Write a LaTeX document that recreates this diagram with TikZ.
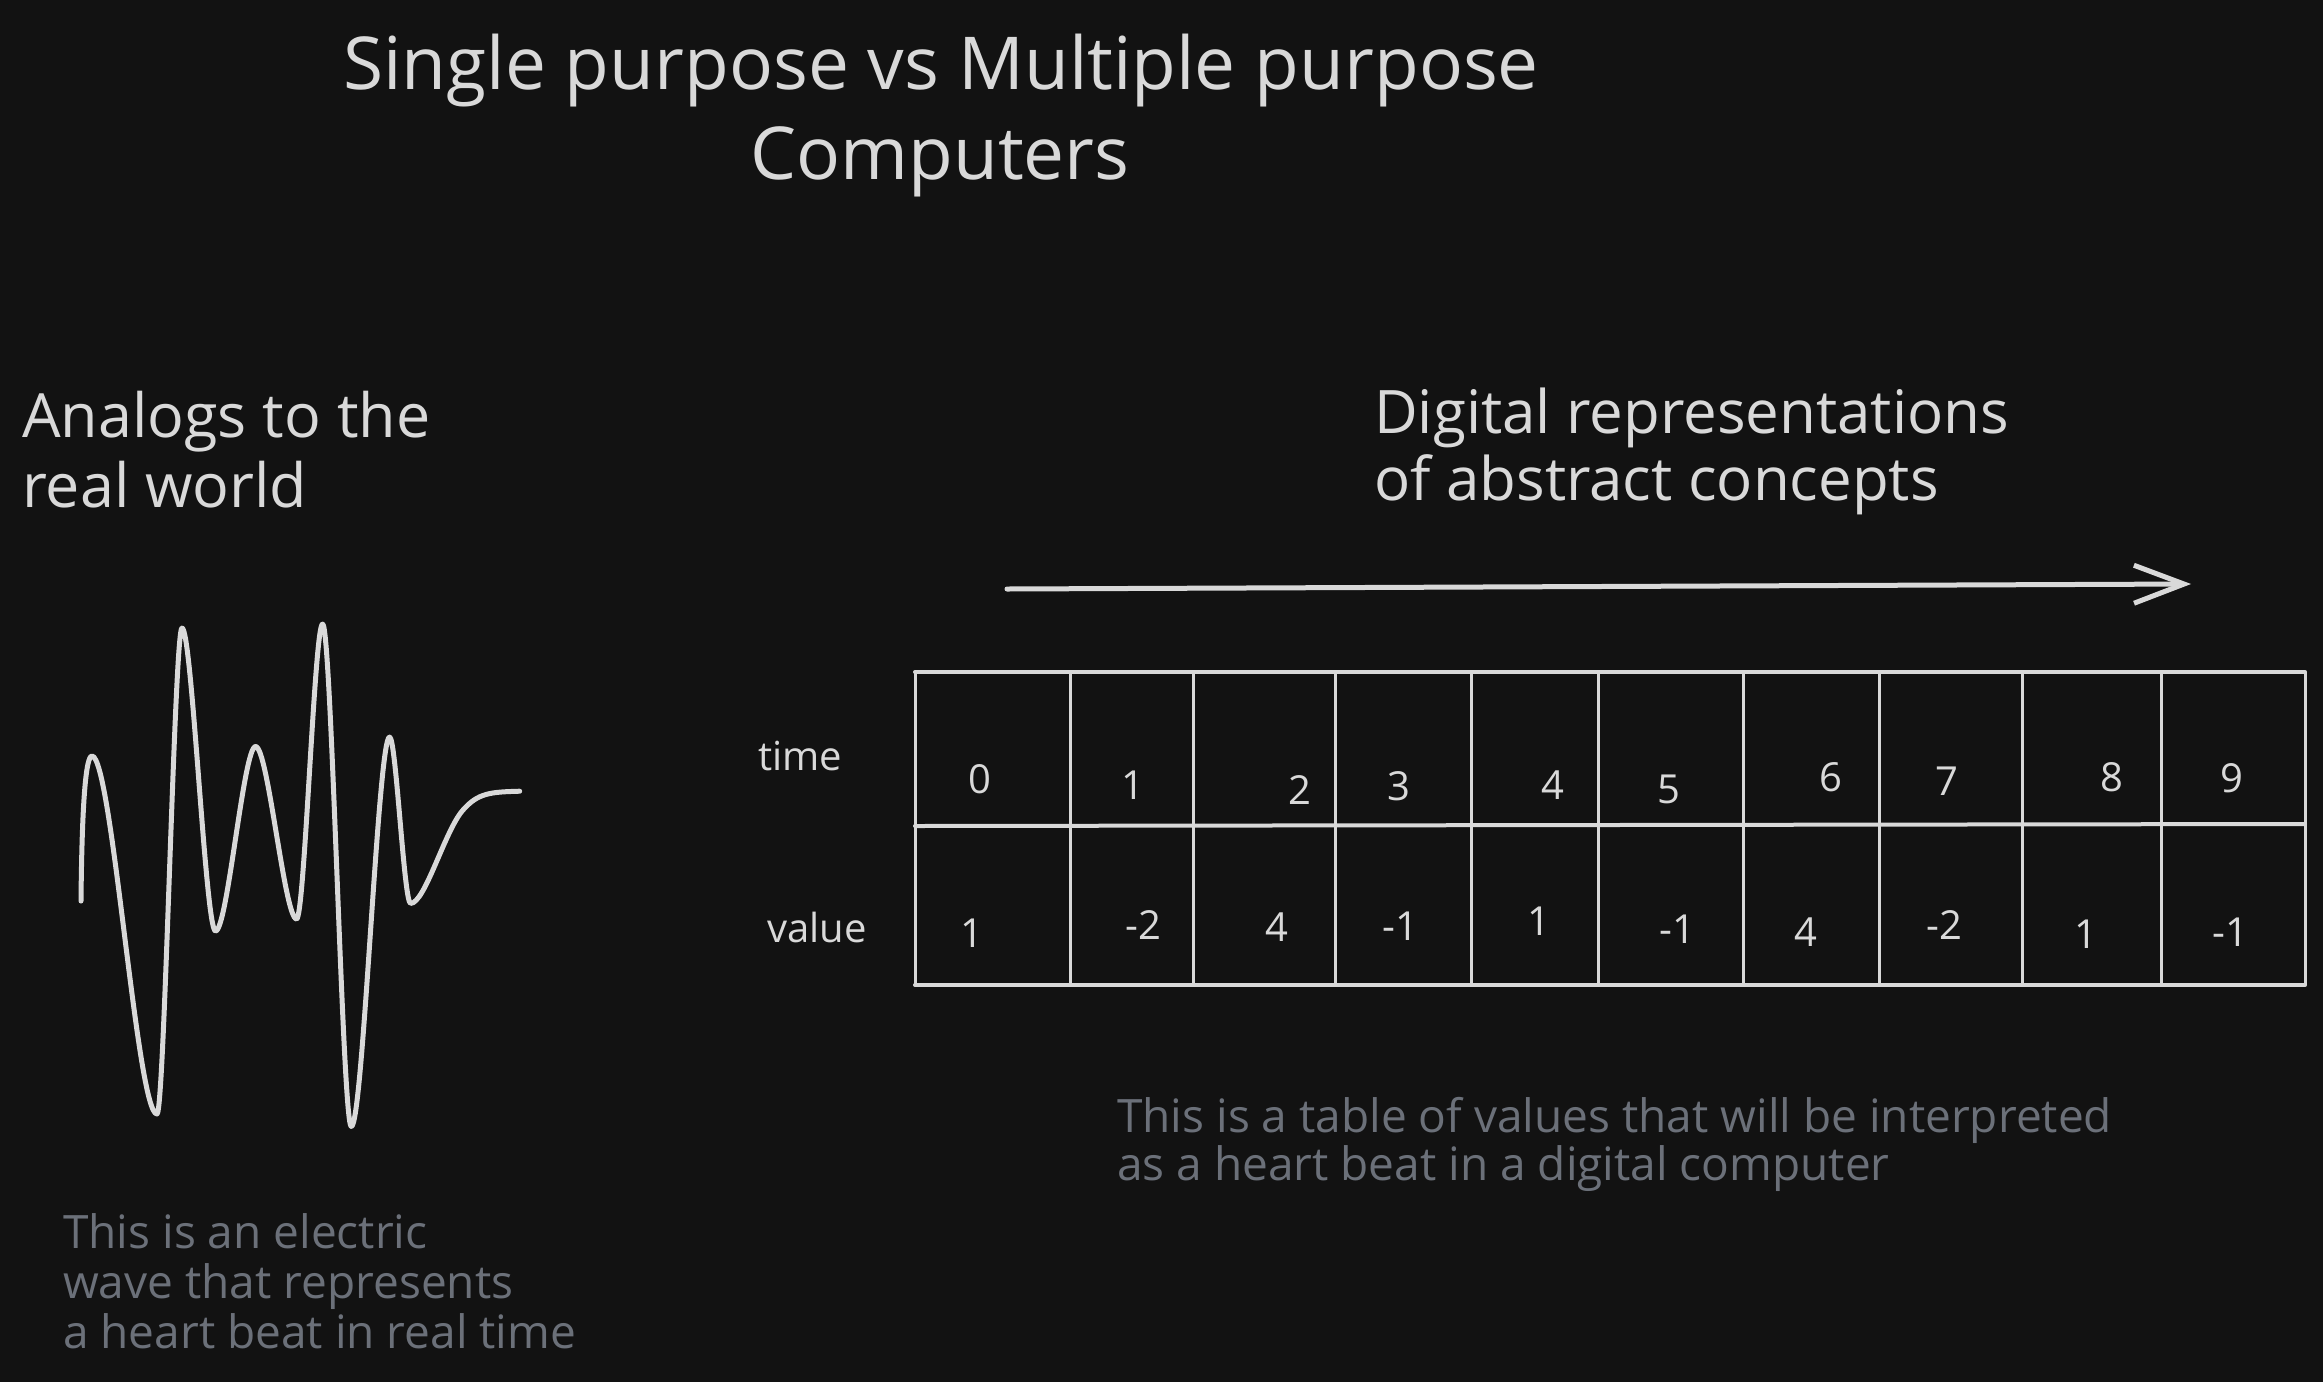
\documentclass[tikz,border=0pt]{standalone}
\usepackage{fontspec}
\setmainfont{Open Sans}
\usetikzlibrary{arrows.meta}
\definecolor{bg}{HTML}{121212}
\definecolor{ink}{HTML}{D9D9D9}
\definecolor{note}{HTML}{6B7079}
\tikzset{
  txt/.style={inner sep=0pt, text=ink},
  titletxt/.style={txt, font=\fontsize{73}{80}\selectfont, anchor=base},
  headtxt/.style={txt, font=\fontsize{61}{68}\selectfont, anchor=base west},
  notetxt/.style={inner sep=0pt, text=note, font=\fontsize{46}{52}\selectfont, anchor=base west},
  labtxt/.style={txt, font=\fontsize{40}{46}\selectfont, anchor=base west},
  celltxt/.style={txt, font=\fontsize{40}{44}\selectfont},
  vgrid/.style={draw=ink, line width=3pt},
  hgrid/.style={draw=ink, line width=4pt, line cap=round},
  wave/.style={draw=ink, line width=5pt, line cap=round, line join=round},
  arrowline/.style={draw=ink, line width=5pt, line cap=round,
    -{Straight Barb[length=50pt,width=38pt,line width=5pt]}},
}
\begin{document}
\begin{tikzpicture}[x=1pt,y=-1pt]
\fill[bg] (0,0) rectangle (2323,1382);
\useasboundingbox (0,0) rectangle (2323,1382);

% title
\node[titletxt] (t1) at (941,89) {Single purpose vs Multiple purpose};
\node[titletxt] (t2) at (940,179) {Computers};

% headings
\node[headtxt] (a1) at (22,437) {Analogs to the};
\node[headtxt] (a2) at (22,507) {real world};
\node[headtxt, font=\fontsize{60}{66}\selectfont] (d1) at (1374,433) {Digital representations};
\node[headtxt, font=\fontsize{60}{66}\selectfont] (d2) at (1374,500) {of abstract concepts};

% arrow
\coordinate (as) at (1007,589);
\coordinate (ae) at (2191,584);
\draw[arrowline] (as) -- (ae);

% wave
\draw[wave] (81,901)
  .. controls (82,800) and (86,756) .. (92,756)
  .. controls (112,756) and (137,1114) .. (157,1114)
  .. controls (164.5,1114) and (174.5,628) .. (182,628)
  .. controls (192,628) and (205.5,931) .. (215.5,931)
  .. controls (227.5,931) and (243.5,746.5) .. (255.6,746.5)
  .. controls (268,746.5) and (284.5,919) .. (296.6,919)
  .. controls (304.5,919) and (314.5,624) .. (322.6,624)
  .. controls (331.5,624) and (342.5,1126.5) .. (351.3,1126.5)
  .. controls (363,1126.5) and (378,737) .. (389.6,737)
  .. controls (396,737) and (404,903.4) .. (410.6,903.4)
  .. controls (425,903.4) and (445,830) .. (463,810)
  .. controls (478,793) and (490,792) .. (519.7,791.2);

% table grid
\coordinate (tl) at (915,672);
\coordinate (tr) at (2305,672);
\coordinate (ml) at (915,826);
\coordinate (mr) at (2305,824);
\coordinate (bl) at (915,985);
\coordinate (br) at (2305,985);
\draw[hgrid] (tl) -- (tr);
\draw[hgrid] (ml) -- (mr);
\draw[hgrid] (bl) -- (br);
\foreach \x in {915,1070.4,1193,1335.5,1471,1598.5,1743,1879.4,2022,2161.5,2305}{
  \draw[vgrid] (\x,672) -- (\x,985);
}

% row labels
\node[labtxt] (ltime) at (758,770) {time};
\node[labtxt] (lvalue) at (767,942) {value};

% time row
\node[celltxt] (c0) at (980,779) {0};
\node[celltxt] (c1) at (1133,785) {1};
\node[celltxt] (c2) at (1300,790) {2};
\node[celltxt] (c3) at (1399,786) {3};
\node[celltxt] (c4) at (1553,785) {4};
\node[celltxt] (c5) at (1669,789) {5};
\node[celltxt] (c6) at (1831,777) {6};
\node[celltxt] (c7) at (1947,781) {7};
\node[celltxt] (c8) at (2112,777) {8};
\node[celltxt] (c9) at (2232,778) {9};

% value row
\node[celltxt] (v0) at (972,933) {1};
\node[celltxt] (v1) at (1143,925) {-2};
\node[celltxt] (v2) at (1277,927) {4};
\node[celltxt] (v3) at (1400,926) {-1};
\node[celltxt] (v4) at (1539,921) {1};
\node[celltxt] (v5) at (1677,929) {-1};
\node[celltxt] (v6) at (1806,932) {4};
\node[celltxt] (v7) at (1944,925) {-2};
\node[celltxt] (v8) at (2086,934) {1};
\node[celltxt] (v9) at (2230,932) {-1};

% notes
\node[notetxt] (n1) at (63,1248) {This is an electric};
\node[notetxt] (n2) at (63,1298) {wave that represents};
\node[notetxt] (n3) at (63,1348) {a heart beat in real time};
\node[notetxt] (m1) at (1117,1132) {This is a table of values that will be interpreted};
\node[notetxt] (m2) at (1117,1180) {as a heart beat in a digital computer};
\end{tikzpicture}
\end{document}
